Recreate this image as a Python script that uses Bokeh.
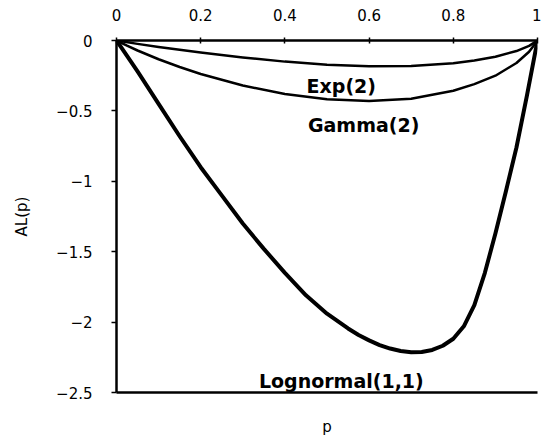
from bokeh.plotting import figure
from bokeh.models import LinearAxis, FixedTicker, Label
from bokeh.embed import file_html
from bokeh.resources import INLINE

# ---- data ----
x_ticks = [0, 0.2, 0.4, 0.6, 0.8, 1]
x_tick_labels = ["0", "0.2", "0.4", "0.6", "0.8", "1"]
y_ticks = [0, -0.5, -1, -1.5, -2, -2.5]
y_tick_labels = ["0", "\u22120.5", "\u22121", "\u22121.5", "\u22122", "\u22122.5"]

p_exp = [0, 0.05, 0.1, 0.15, 0.2, 0.3, 0.4, 0.5, 0.6, 0.7, 0.8, 0.85, 0.9, 0.95, 0.98, 1.0]
al_exp = [0, -0.024, -0.046, -0.066, -0.086, -0.120, -0.150, -0.172, -0.183, -0.181,
          -0.162, -0.142, -0.115, -0.075, -0.038, 0]

p_gamma = [0, 0.025, 0.05, 0.1, 0.15, 0.2, 0.3, 0.4, 0.5, 0.6, 0.7, 0.8, 0.85, 0.9, 0.95, 0.98, 1.0]
al_gamma = [0, -0.037, -0.071, -0.133, -0.188, -0.238, -0.320, -0.380, -0.418, -0.430,
            -0.413, -0.357, -0.310, -0.250, -0.160, -0.080, 0]

p_logn = [0, 0.025, 0.05, 0.1, 0.15, 0.2, 0.25, 0.3, 0.35, 0.4, 0.45, 0.5, 0.55, 0.575,
          0.6, 0.625, 0.65, 0.675, 0.7, 0.725, 0.75, 0.775, 0.8, 0.825, 0.85, 0.875, 0.9,
          0.925, 0.95, 0.975, 1.0]
al_logn = [0, -0.11, -0.22, -0.45, -0.68, -0.90, -1.10, -1.30, -1.48, -1.65, -1.81, -1.94,
           -2.045, -2.092, -2.13, -2.163, -2.188, -2.205, -2.214, -2.212, -2.198, -2.168,
           -2.118, -2.03, -1.88, -1.65, -1.37, -1.07, -0.76, -0.39, 0]

TICK_FONT = "DejaVu Sans"
LABEL_FONT = "DejaVu Sans"

p = figure(width=541, height=440, x_range=(0, 1), y_range=(-2.5, 0),
           x_axis_location="above", output_backend="svg", toolbar_location=None,
           min_border_left=116, min_border_right=4, min_border_top=40, min_border_bottom=48)
p.grid.visible = False
p.outline_line_color = None
p.background_fill_color = "white"
p.border_fill_color = "white"

# top x axis
xa = p.xaxis[0]
xa.ticker = FixedTicker(ticks=x_ticks)
xa.major_label_overrides = {t: s for t, s in zip(x_ticks, x_tick_labels)}
xa.minor_tick_line_color = None
xa.major_tick_in = 3
xa.major_tick_out = 3
xa.major_label_standoff = 17
xa.axis_line_width = 2.5
xa.major_tick_line_width = 1.5
xa.major_label_text_font = TICK_FONT
xa.major_label_text_font_size = "15px"
xa.major_label_text_color = "black"

# left y axis
ya = p.yaxis[0]
ya.ticker = FixedTicker(ticks=y_ticks)
ya.major_label_overrides = {t: s for t, s in zip(y_ticks, y_tick_labels)}
ya.minor_tick_line_color = None
ya.major_tick_in = 0
ya.major_tick_out = 5
ya.major_label_standoff = 19
ya.axis_line_width = 2.5
ya.major_tick_line_width = 1.5
ya.major_label_text_font = TICK_FONT
ya.major_label_text_font_size = "15px"
ya.major_label_text_color = "black"
ya.axis_label = "AL(p)"
ya.axis_label_text_font = LABEL_FONT
ya.axis_label_text_font_size = "15px"
ya.axis_label_text_font_style = "normal"
ya.axis_label_text_color = "black"
ya.axis_label_standoff = 22

# bottom axis (line + label only)
xb = LinearAxis(ticker=FixedTicker(ticks=[]), axis_label="p")
xb.major_tick_in = 0
xb.major_tick_out = 0
xb.minor_tick_line_color = None
xb.axis_line_width = 2.5
xb.axis_label_text_font = LABEL_FONT
xb.axis_label_text_font_size = "15px"
xb.axis_label_text_font_style = "normal"
xb.axis_label_text_color = "black"
xb.axis_label_standoff = 25
p.add_layout(xb, "below")

# curves
p.line(p_exp, al_exp, line_color="black", line_width=2.5, line_join="round")
p.line(p_gamma, al_gamma, line_color="black", line_width=2.5, line_join="round")
p.line(p_logn, al_logn, line_color="black", line_width=4, line_join="round")

# curve labels
for txt, xx, yy in [("Exp(2)", 0.534, -0.32), ("Gamma(2)", 0.587, -0.597),
                    ("Lognormal(1,1)", 0.534, -2.415)]:
    p.add_layout(Label(x=xx, y=yy, text=txt, text_align="center", text_baseline="alphabetic",
                       text_font=LABEL_FONT, text_font_size="19px", text_font_style="bold",
                       text_color="black"))

open("out.html", "w").write(file_html(p, INLINE))
